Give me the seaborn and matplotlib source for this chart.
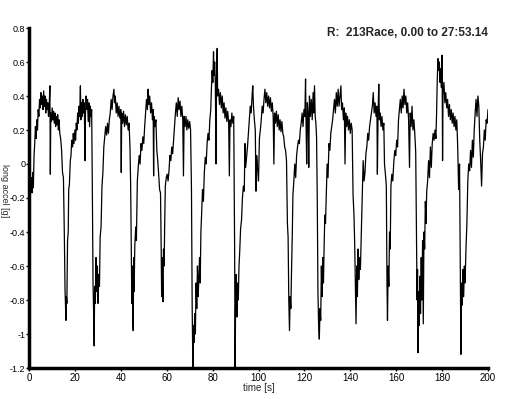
import matplotlib
matplotlib.use("Agg")
import matplotlib.pyplot as plt
import matplotlib.ticker as ticker
import seaborn as sns
import pandas as pd

# lap-by-lap longitudinal acceleration trace
time_s = [
    0.0, 0.2, 0.4, 0.7, 1.0, 1.3, 1.6, 1.9, 2.2, 2.5, 2.8, 3.1, 3.4, 3.7, 4.0, 4.3, 4.6, 4.9,
    5.2, 5.5, 5.8, 6.1, 6.4, 6.7, 7.0, 7.3, 7.6, 7.9, 8.2, 8.5, 8.8, 9.1, 9.3, 9.5, 9.8, 10.1,
    10.4, 10.7, 11.0, 11.3, 11.6, 11.9, 12.2, 12.5, 12.8, 13.1, 13.4, 13.8, 14.2, 14.6, 15.0,
    15.4, 15.7, 15.9, 16.1, 16.3, 16.5, 16.8, 17.1, 17.3, 17.6, 18.0, 18.3, 18.6, 19.0, 19.3,
    19.6, 20.0, 20.3, 20.6, 20.9, 21.2, 21.5, 21.8, 22.1, 22.4, 22.6, 22.9, 23.2, 23.5, 23.8,
    24.1, 24.4, 24.6,
    24.9, 25.2, 25.5, 25.8, 26.1, 26.4, 26.7, 27.0, 27.3, 27.6, 27.9, 28.2, 28.4, 28.6, 28.9,
    29.2, 29.5, 29.8, 30.1, 30.4, 30.7, 31.0, 31.4, 31.8, 32.2, 32.6, 33.0, 33.4, 33.8, 34.2,
    34.6, 35.0, 35.4, 35.8, 36.2, 36.6, 37.0, 37.3, 37.6, 38.0, 38.4, 38.8, 39.2, 39.6, 40.0,
    40.2, 40.4, 40.8, 41.2, 41.6, 42.0, 42.4, 42.8, 43.2, 43.6, 44.0, 44.3, 44.6, 44.8, 45.0,
    45.2, 45.4, 45.6, 45.8, 46.1, 46.5, 46.8, 47.2, 47.6, 48.0, 48.4, 48.8, 49.2, 49.6,
    50.0, 50.4, 50.8, 51.2, 51.6, 51.9, 52.2, 52.6, 53.0, 53.4, 53.8, 54.1, 54.3, 54.5, 54.9,
    55.3, 55.7, 56.1, 56.5, 56.9, 57.3, 57.6, 57.8, 58.0, 58.2, 58.4, 58.6, 58.9, 59.1, 59.4,
    59.8, 60.2, 60.6, 61.0, 61.4, 61.8, 62.2, 62.6, 63.0, 63.4, 63.8, 64.2, 64.6, 65.0, 65.4,
    65.8, 66.2, 66.6, 67.0, 67.3, 67.6, 68.0, 68.4, 68.8, 69.2, 69.6, 70.0, 70.4, 70.8, 71.1,
    71.4, 71.6, 71.9, 72.2, 72.5, 72.8, 73.1, 73.4, 73.7, 74.0, 74.3, 74.6, 74.9,
    75.2, 75.6, 76.0, 76.4, 76.8, 77.2, 77.6, 78.0, 78.4, 78.8, 79.2, 79.5, 79.8, 80.1, 80.4,
    80.6, 80.9, 81.2, 81.5, 81.7, 82.0, 82.2, 82.6, 83.0, 83.4, 83.8, 84.2, 84.6, 85.0, 85.4,
    85.8, 86.2, 86.6, 87.0, 87.3, 87.6, 88.0, 88.4, 88.8, 89.2, 89.6, 89.8, 90.0, 90.3, 90.6,
    90.9, 91.2, 91.5, 91.8, 92.2, 92.6, 93.0, 93.4, 93.8, 94.1, 94.4, 94.8, 95.2, 95.6, 96.0,
    96.4, 96.8, 97.2, 97.5, 97.8, 98.2, 98.6, 98.9, 99.2, 99.6, 100.0,
    100.4, 100.8, 101.2, 101.6, 102.0, 102.4, 102.8, 103.2, 103.6, 104.0, 104.4, 104.8, 105.2,
    105.6, 106.0, 106.4, 106.7, 107.0, 107.4, 107.8, 108.2, 108.6, 109.0, 109.4, 109.8, 110.2,
    110.6, 111.0, 111.4, 111.8, 112.2, 112.6, 112.9, 113.2, 113.5, 113.8, 114.1, 114.4, 114.7,
    115.0, 115.4, 115.8, 116.2, 116.6, 117.0, 117.4, 117.8, 118.2, 118.6, 119.0, 119.4, 119.8,
    120.2, 120.5, 120.7, 121.0, 121.3, 121.6, 121.9, 122.2, 122.6, 123.0, 123.4, 123.8, 124.1,
    124.4, 124.7, 125.0,
    125.3, 125.6, 125.9, 126.2, 126.5, 126.8, 127.1, 127.4, 127.7, 128.0, 128.3, 128.6, 128.9,
    129.2, 129.5, 129.9, 130.3, 130.7, 131.1, 131.5, 131.9, 132.3, 132.7, 133.1, 133.5, 133.9,
    134.3, 134.7, 135.1, 135.5, 135.9, 136.2, 136.6, 137.0, 137.4, 137.7, 138.0, 138.4, 138.8,
    139.2, 139.6, 140.0, 140.4, 140.8, 141.2, 141.6, 141.9, 142.2, 142.5, 142.8, 143.1, 143.4,
    143.7, 144.0, 144.4, 144.8, 145.2, 145.6, 146.0, 146.4, 146.8, 147.2, 147.6, 148.0, 148.4,
    148.8, 149.2, 149.6, 150.0,
    150.4, 150.8, 151.2, 151.6, 151.8, 152.1, 152.4, 152.7, 153.0, 153.4, 153.8, 154.2, 154.6,
    154.9, 155.3, 155.7, 156.0, 156.2, 156.5, 156.8, 157.1, 157.4, 157.7, 158.1, 158.5, 159.0,
    159.4, 159.8, 160.2, 160.6, 161.0, 161.4, 161.8, 162.2, 162.6, 163.0, 163.4, 163.8, 164.2,
    164.6, 165.0, 165.4, 165.8, 166.1, 166.5, 166.9, 167.3, 167.7, 168.1, 168.5, 168.9, 169.1,
    169.3, 169.5, 169.7, 170.0, 170.3, 170.6, 170.9, 171.2, 171.5, 171.8, 172.1, 172.4, 172.7,
    173.0, 173.3, 173.7, 174.1, 174.5, 174.9, 175.3,
    175.7, 176.1, 176.5, 176.9, 177.3, 177.6, 177.9, 178.2, 178.5, 178.8, 179.1, 179.4, 179.7,
    180.0, 180.2, 180.4, 180.8, 181.2, 181.6, 182.0, 182.4, 182.8, 183.2, 183.6, 184.0, 184.4,
    184.8, 185.2, 185.6, 186.0, 186.4, 186.8, 187.2, 187.6, 187.9, 188.2, 188.5, 188.8, 189.1,
    189.4, 189.7, 190.0, 190.4, 190.8, 191.2, 191.6, 192.0, 192.4, 192.8, 193.2, 193.6, 194.0,
    194.4, 194.8, 195.2, 195.6, 196.0, 196.4, 196.8, 197.2, 197.6, 198.0, 198.4, 198.8, 199.2,
    199.6, 200.0,
]

long_accel_g = [
    0.44, -0.05, 0.02, -0.15, -0.08, -0.17, -0.05, -0.14, 0.05, 0.12, 0.22, 0.15, 0.26, 0.20,
    0.32, 0.28, 0.38, 0.33, 0.42, 0.35, 0.40, 0.32, 0.43, 0.34, 0.40, 0.30, 0.38, 0.32, 0.36,
    0.28, 0.34, 0.46, -0.06, 0.30, 0.25, 0.33, 0.26, 0.31, 0.24, 0.30, 0.22, 0.28, 0.23, 0.29,
    0.20, 0.26, 0.18, 0.15, 0.08, -0.05, -0.08, -0.42, -0.74, -0.84, -0.92, -0.78, -0.82, -0.45,
    -0.40, -0.15, -0.12, 0.02, 0.05, 0.14, 0.10, 0.18, 0.12, 0.20, 0.14, 0.24, 0.20, 0.30, 0.24,
    0.34, 0.28, 0.46, 0.26, 0.36, 0.28, 0.38, 0.30, 0.36, 0.02, 0.30,
    0.40, 0.32, 0.38, 0.25, 0.36, 0.22, 0.34, 0.28, 0.32, -0.15, -0.70, -0.90, -1.07, -0.72,
    -0.82, -0.55, -0.75, -0.60, -0.82, -0.65, -0.72, -0.43, -0.37, -0.13, -0.05, 0.10, 0.16,
    0.22, 0.17, 0.24, 0.18, 0.26, 0.30, 0.38, 0.32, 0.40, 0.44, 0.36, 0.40, 0.30, 0.36, 0.28,
    0.34, 0.27, 0.32, -0.05, 0.30, 0.24, 0.31, 0.22, 0.29, 0.23, 0.28, 0.20, 0.24, 0.10, -0.13,
    -0.55, -0.82, -0.60, -0.88, -0.98, -0.55, -0.75, -0.48, -0.37, -0.45, -0.10, -0.02, 0.05,
    0.00, 0.12, 0.08, 0.16,
    0.12, 0.22, 0.30, 0.38, 0.32, 0.44, 0.35, 0.40, 0.30, 0.36, 0.26, 0.32, -0.07, 0.28, 0.22,
    0.26, 0.08, 0.02, -0.06, -0.15, -0.17, -0.50, -0.78, -0.55, -0.72, -0.81, -0.50, -0.60,
    -0.37, -0.13, -0.08, -0.06, -0.10, -0.04, 0.05, 0.02, 0.10, 0.06, 0.14, 0.22, 0.30, 0.36,
    0.28, 0.39, 0.32, 0.37, 0.28, 0.34, 0.26, -0.07, 0.28, 0.22, 0.28, 0.20, 0.26, 0.21, 0.25,
    0.20, -0.16, -0.84, -1.20, -0.95, -1.05, -0.88, -1.00, -0.70, -0.85, -0.60, -0.78, -0.68,
    -0.55, -0.70, -0.40,
    -0.30, -0.15, -0.22, -0.05, 0.04, 0.00, 0.12, 0.18, 0.14, 0.26, 0.32, 0.45, 0.55, 0.48,
    0.66, 0.52, 0.60, 0.47, 0.00, 0.50, 0.68, 0.40, 0.44, 0.35, 0.42, 0.33, 0.40, 0.30, 0.36,
    0.27, 0.33, 0.25, 0.31, 0.24, -0.07, 0.26, 0.22, 0.30, 0.24, 0.28, -0.50, -1.20, -0.85,
    -0.65, -0.90, -0.70, -0.80, -0.60, -0.52, -0.38, -0.33, -0.20, -0.13, -0.16, 0.12, -0.02,
    0.04, 0.10, 0.18, 0.26, 0.34, 0.30, 0.40, 0.46, 0.34, 0.26, 0.20, -0.16, 0.05, -0.03, -0.10,
    0.15, 0.20, 0.26, 0.34, 0.30, 0.38, 0.44, 0.36, 0.42, 0.34, 0.40, 0.33, 0.39, 0.31, 0.36,
    0.28, 0.00, 0.30, 0.24, 0.31, 0.22, 0.29, 0.20, 0.26, 0.19, 0.25, 0.18, 0.16, 0.10, 0.08,
    0.02, -0.35, -0.43, -0.80, -0.98, -0.78, -0.85, -0.62, -0.43, -0.18, -0.10, 0.00, -0.08,
    0.05, 0.10, 0.14, 0.12, 0.20, 0.24, 0.30, 0.22, 0.32, 0.28, 0.50, 0.26, 0.00, 0.36, 0.30,
    -0.02, 0.40, 0.28, 0.38, 0.26, 0.42, 0.30, 0.46, 0.28, 0.24,
    0.16, -0.20, -0.75, -0.95, -1.03, -0.85, -0.92, -0.60, -0.78, -0.55, -0.70, -0.48, -0.30,
    -0.35, -0.20, 0.00, -0.08, 0.12, 0.08, 0.18, 0.22, 0.26, 0.32, 0.38, 0.30, 0.42, 0.34, 0.44,
    0.34, 0.40, 0.46, 0.32, 0.36, 0.26, 0.33, 0.00, 0.30, 0.22, 0.28, 0.20, 0.26, 0.18, 0.24,
    0.20, -0.18, -0.30, -0.46, -0.70, -0.94, -0.60, -0.78, -0.50, -0.68, -0.55, -0.62, -0.40,
    -0.16, 0.02, -0.10, -0.05, 0.06, 0.10, 0.18, 0.14, 0.22, 0.26, 0.30, 0.34, 0.42,
    0.30, 0.36, 0.28, 0.34, -0.06, 0.30, 0.47, 0.26, 0.30, 0.22, 0.28, 0.20, 0.24, 0.00, -0.06,
    -0.13, -0.72, -0.92, -0.60, -0.72, -0.40, -0.50, -0.13, -0.06, -0.10, 0.02, 0.08, 0.05,
    0.14, 0.10, 0.26, 0.32, 0.38, 0.30, 0.40, 0.33, 0.44, 0.35, 0.40, 0.30, 0.36, 0.26, -0.02,
    0.30, 0.22, 0.34, 0.20, 0.26, 0.18, 0.07, -0.50, -0.80, -0.62, -1.11, -0.75, -0.95, -0.66,
    -0.88, -0.55, -0.80, -0.45, -0.94, -0.40, -0.50, -0.22, -0.35, -0.16, -0.10, 0.02, -0.08,
    0.10, -0.02,
    0.12, 0.18, 0.14, 0.20, 0.15, 0.30, 0.50, 0.62, 0.55, 0.60, 0.48, 0.56, 0.45, 0.64, 0.02,
    0.42, 0.48, 0.36, 0.42, 0.33, 0.38, 0.28, 0.35, 0.26, 0.32, 0.24, 0.30, 0.22, 0.28, 0.20,
    0.26, 0.10, -0.15, 0.00, -0.60, -1.12, -0.70, -0.83, -0.62, -0.78, -0.60, -0.70, -0.50,
    -0.35, -0.10, 0.00, -0.04, 0.08, -0.02, 0.14, 0.04, 0.20, 0.30, 0.38, 0.28, 0.40, 0.34,
    0.14, 0.02, -0.13, 0.06, 0.10, 0.20, 0.14, 0.26, 0.24, 0.32,
]

title_text = "R:  213Race, 0.00 to 27:53.14"


def main():
    sns.set_style("white")
    plt.rcParams['font.family'] = ['Liberation Sans', 'DejaVu Sans']
    plt.rcParams['axes.unicode_minus'] = False

    df = pd.DataFrame({"time": time_s, "accel": long_accel_g})

    fig = plt.figure(figsize=(5.18, 3.99), dpi=100)
    ax = fig.add_axes([29 / 518, 1 - 368 / 399, 459 / 518, 340 / 399])

    sns.lineplot(data=df, x="time", y="accel", ax=ax, color="black",
                 linewidth=0.9, estimator=None, sort=False)

    ax.set_xlim(0, 200)
    ax.set_ylim(-1.2, 0.8)
    ax.xaxis.set_major_locator(ticker.MultipleLocator(20))
    ax.yaxis.set_major_locator(ticker.MultipleLocator(0.2))
    ax.yaxis.set_major_formatter(ticker.FuncFormatter(lambda v, pos: '{0:g}'.format(round(v, 6) + 0.0)))

    for side in ["top", "right"]:
        ax.spines[side].set_visible(False)
    for side in ["left", "bottom"]:
        ax.spines[side].set_color("black")
        ax.spines[side].set_linewidth(2.5)

    ax.tick_params(axis="x", which="major", direction="out", length=2.5, width=1,
                   color="black", labelsize=7, labelcolor="black", pad=1, bottom=True)
    ax.tick_params(axis="y", which="major", direction="out", length=2, width=1,
                   color="black", labelsize=6.5, labelcolor="black", pad=0.5, left=True)

    ax.set_xlabel("time [s]", fontsize=7, labelpad=0)
    ax.set_ylabel("")
    fig.text(4 / 518, 1 - 191 / 399, "long accel [g]", rotation=-90, fontsize=6.5,
             ha="center", va="center")
    fig.text(488 / 518, 1 - 33 / 399, title_text, fontsize=8.5, fontweight="bold",
             ha="right", va="center")

    fig.savefig("out.png", dpi=100)


if __name__ == "__main__":
    main()
